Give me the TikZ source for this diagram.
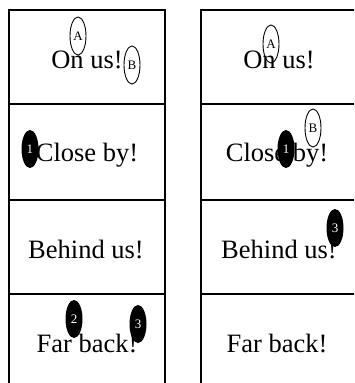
\documentclass[tikz,border=0pt]{standalone}
\usepackage{fontspec}
\setmainfont{Liberation Serif}
\usetikzlibrary{shapes.geometric}
\tikzset{
  cellbox/.style={line width=1.8pt},
  saying/.style={anchor=base, font=\fontsize{26.5}{28}\selectfont},
  openmark/.style={ellipse, draw, line width=0.9pt, fill=none, minimum width=16pt,
    minimum height=38pt, inner sep=0pt, font=\fontsize{13}{14}\selectfont},
  fullmark/.style={ellipse, fill=black, text=white, minimum width=17pt,
    minimum height=38pt, inner sep=0pt, font=\fontsize{13}{14}\selectfont}
}

\begin{document}
\begin{tikzpicture}[x=1pt, y=-1pt]
    \useasboundingbox (0,0) rectangle (354,383);
    \clip (0,0) rectangle (354,383);
    % two columns of four cells
    \foreach \xl in {9,201}
    {
        \draw[cellbox] (\xl,10) rectangle ++(156,379);
        \foreach \yl in {104,200,294}
            \draw[cellbox] (\xl,\yl) -- ++(156,0);
    }
    % left column
    \node[saying] (onl) at (87,68) {On us!};
    \node[saying] (closel) at (87,161) {Close by!};
    \node[saying] (behindl) at (86,258) {Behind us!};
    \node[saying] (farl) at (87,352) {Far back!};
    \node[openmark] (al) at (78,36) {A};
    \node[openmark] (bl) at (132,65) {B};
    \node[fullmark] (onel) at (30,149) {1};
    \node[fullmark] (twol) at (74,319) {2};
    \node[fullmark] (threel) at (138,324) {3};
    % right column
    \node[saying] (onr) at (279,68) {On us!};
    \node[saying] (closer) at (277,161) {Close by!};
    \node[saying] (behindr) at (279,258) {Behind us!};
    \node[saying] (farr) at (277,352) {Far back!};
    \node[openmark] (ar) at (271,44) {A};
    \node[openmark] (br) at (313,128) {B};
    \node[fullmark] (oner) at (286,149) {1};
    \node[fullmark] (threer) at (335,228) {3};
\end{tikzpicture}
\end{document}
